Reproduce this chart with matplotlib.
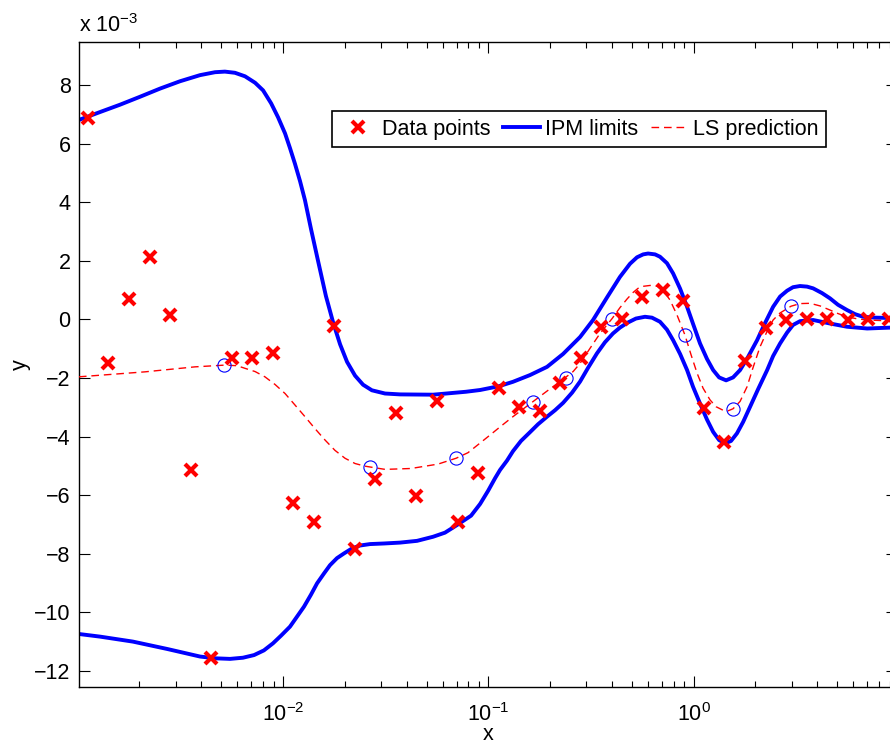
import matplotlib
matplotlib.use('Agg')
import matplotlib.pyplot as plt
import numpy as np

plt.rcParams['font.family'] = 'Liberation Sans'
plt.rcParams['mathtext.fontset'] = 'custom'
plt.rcParams['mathtext.rm'] = 'Liberation Sans'
plt.rcParams['mathtext.it'] = 'Liberation Sans:italic'
plt.rcParams['font.size'] = 15.5

# y values are in units of 1e-3, curve x positions given as log10(x)
data_x = [0.001122, 0.001413, 0.001778, 0.002239, 0.002818, 0.003548, 0.004467, 0.005623,
          0.007079, 0.008913, 0.01122, 0.01413, 0.01778, 0.02239, 0.02818, 0.03548,
          0.04467, 0.05623, 0.07079, 0.08913, 0.1122, 0.1413, 0.1778, 0.2239,
          0.2818, 0.3548, 0.4467, 0.5623, 0.7079, 0.8913, 1.122, 1.413,
          1.778, 2.239, 2.818, 3.548, 4.467, 5.623, 7.079, 8.913]
data_y = [6.86, -1.49, 0.68, 2.13, 0.14, -5.14, -11.55, -1.33,
          -1.31, -1.16, -6.26, -6.93, -0.22, -7.85, -5.46, -3.19,
          -6.03, -2.78, -6.92, -5.24, -2.35, -2.98, -3.12, -2.18,
          -1.33, -0.27, 0.0, 0.75, 1.0, 0.63, -3.03, -4.20,
          -1.43, -0.31, -0.02, 0.03, 0.0, -0.02, 0.01, 0.0]

upper_logx = [-2.994, -2.891, -2.794, -2.697, -2.599, -2.502, -2.404, -2.331, -2.283, -2.234,
              -2.185, -2.136, -2.097, -2.058, -2.024, -1.990, -1.966, -1.942, -1.917, -1.893,
              -1.864, -1.830, -1.791, -1.756, -1.722, -1.688, -1.649, -1.610, -1.567, -1.503,
              -1.430, -1.269, -1.109, -1.040, -0.948, -0.880, -0.797, -0.714, -0.636, -0.553,
              -0.490, -0.422, -0.359, -0.310, -0.276, -0.246, -0.222, -0.188, -0.164, -0.130,
              -0.100, -0.066, -0.032, -0.003, 0.031, 0.065, 0.095, 0.124, 0.158, 0.192,
              0.226, 0.265, 0.309, 0.348, 0.387, 0.421, 0.455, 0.484, 0.518, 0.552,
              0.582, 0.625, 0.664, 0.703, 0.747, 0.786, 0.825, 0.884, 0.957, 0.995]
upper_y = [6.81, 7.08, 7.33, 7.60, 7.88, 8.13, 8.34, 8.44, 8.46, 8.42,
           8.30, 8.08, 7.82, 7.38, 6.90, 6.35, 5.85, 5.32, 4.72, 4.07,
           3.10, 2.02, 0.80, -0.10, -0.85, -1.45, -1.92, -2.23, -2.42, -2.53,
           -2.56, -2.57, -2.47, -2.41, -2.28, -2.13, -1.90, -1.62, -1.18, -0.60,
           -0.02, 0.75, 1.45, 1.90, 2.12, 2.22, 2.25, 2.22, 2.14, 1.92,
           1.57, 1.05, 0.43, -0.15, -0.82, -1.35, -1.73, -1.98, -2.08, -1.98,
           -1.73, -1.28, -0.71, -0.12, 0.43, 0.78, 0.98, 1.10, 1.14, 1.12,
           1.06, 0.90, 0.72, 0.50, 0.32, 0.18, 0.09, 0.06, 0.05, 0.05]

lower_logx = [-2.994, -2.891, -2.731, -2.565, -2.404, -2.331, -2.258, -2.195, -2.141, -2.093,
              -2.049, -2.010, -1.966, -1.932, -1.898, -1.864, -1.834, -1.800, -1.771, -1.737,
              -1.703, -1.664, -1.625, -1.576, -1.508, -1.430, -1.347, -1.269, -1.211, -1.148,
              -1.084, -1.040, -1.001, -0.967, -0.943, -0.909, -0.880, -0.841, -0.797, -0.758,
              -0.714, -0.675, -0.636, -0.592, -0.553, -0.514, -0.471, -0.432, -0.393, -0.359,
              -0.324, -0.281, -0.237, -0.203, -0.164, -0.130, -0.100, -0.066, -0.032, -0.003,
              0.031, 0.065, 0.095, 0.124, 0.153, 0.182, 0.211, 0.241, 0.275, 0.314,
              0.358, 0.387, 0.421, 0.455, 0.484, 0.518, 0.582, 0.664, 0.747, 0.845,
              0.957, 0.995]
lower_y = [-10.74, -10.83, -11.0, -11.25, -11.51, -11.57, -11.59, -11.55, -11.46, -11.30,
           -11.06, -10.80, -10.49, -10.15, -9.81, -9.40, -9.01, -8.67, -8.39, -8.15,
           -7.99, -7.82, -7.72, -7.67, -7.65, -7.62, -7.56, -7.42, -7.28, -7.00,
           -6.70, -6.30, -5.85, -5.42, -5.14, -4.82, -4.50, -4.15, -3.85, -3.58,
           -3.32, -3.10, -2.85, -2.50, -2.12, -1.65, -1.16, -0.78, -0.48, -0.28,
           -0.12, 0.03, 0.09, 0.06, -0.08, -0.35, -0.71, -1.18, -1.73, -2.30,
           -2.87, -3.42, -3.84, -4.12, -4.23, -4.15, -3.89, -3.50, -2.98, -2.38,
           -1.73, -1.25, -0.82, -0.45, -0.19, -0.06, -0.02, -0.14, -0.25, -0.31,
           -0.28, -0.27]

ls_logx = [-2.994, -2.672, -2.429, -2.283, -2.224, -2.185, -2.136, -2.088, -2.039, -1.990,
           -1.942, -1.893, -1.844, -1.795, -1.747, -1.698, -1.649, -1.601, -1.503, -1.377,
           -1.245, -1.157, -1.099, -1.040, -0.992, -0.943, -0.880, -0.787, -0.709, -0.626,
           -0.587, -0.553, -0.505, -0.456, -0.397, -0.359, -0.324, -0.295, -0.271, -0.246,
           -0.212, -0.178, -0.144, -0.115, -0.081, -0.042, -0.013, 0.017, 0.046, 0.080,
           0.109, 0.143, 0.168, 0.192, 0.226, 0.260, 0.289, 0.323, 0.358, 0.387,
           0.421, 0.474, 0.518, 0.567, 0.616, 0.664, 0.703, 0.747, 0.796, 0.845,
           0.957, 0.995]
ls_y = [-1.96, -1.79, -1.62, -1.56, -1.58, -1.67, -1.78, -1.96, -2.22, -2.53,
        -2.92, -3.32, -3.73, -4.12, -4.47, -4.74, -4.92, -5.01, -5.12, -5.09,
        -4.94, -4.74, -4.55, -4.22, -3.95, -3.67, -3.32, -2.83, -2.42, -1.99,
        -1.78, -1.50, -0.99, -0.48, 0.03, 0.40, 0.70, 0.92, 1.06, 1.13,
        1.16, 1.13, 0.95, 0.66, 0.15, -0.54, -1.20, -1.84, -2.35, -2.75,
        -2.98, -3.10, -3.12, -3.05, -2.80, -2.30, -1.65, -0.94, -0.40, -0.02,
        0.22, 0.45, 0.54, 0.55, 0.46, 0.32, 0.20, 0.09, 0.02, -0.02,
        -0.05, -0.05]

circle_x = [0.00516, 0.0266, 0.0697, 0.1644, 0.2382, 0.399, 0.906, 1.56, 2.97]
circle_y = [-1.56, -5.04, -4.74, -2.82, -1.99, 0.03, -0.54, -3.05, 0.45]

upper_x = 10.0 ** np.array(upper_logx)
lower_x = 10.0 ** np.array(lower_logx)
ls_x = 10.0 ** np.array(ls_logx)

fig = plt.figure(figsize=(8.9, 7.44), dpi=100)
ax = fig.add_axes([0.08876, 0.0770, 0.9191, 0.8665])

h_ipm, = ax.plot(upper_x, upper_y, color='blue', lw=2.8, label='IPM limits', zorder=2)
ax.plot(lower_x, lower_y, color='blue', lw=2.8, zorder=2)
h_ls, = ax.plot(ls_x, ls_y, color='red', lw=1.0, dashes=(5.5, 3.5), label='LS prediction', zorder=3)
ax.plot(circle_x, circle_y, 'o', mfc='none', mec='blue', ms=9.5, mew=0.8, zorder=4)
h_data, = ax.plot(data_x, data_y, 'x', color='red', ms=8.5, mew=3, linestyle='none',
                  label='Data points', zorder=5)

ax.set_xscale('log')
ax.set_xlim(0.001015, 9.78)
ax.set_ylim(-12.54, 9.47)
ax.set_yticks(np.arange(-12, 9, 2))

ax.tick_params(which='both', direction='in', top=True, right=True, width=0.8)
ax.tick_params(which='major', length=8, pad=6)
ax.tick_params(which='minor', length=4.5)
ax.tick_params(axis='x', which='major', pad=11.5)
for s in ax.spines.values():
    s.set_linewidth(1.0)

ax.set_xlabel('x', labelpad=-1)
ax.set_ylabel('y', labelpad=2.5)
ax.text(0.0, 1.008, r'x $\mathregular{10^{-3}}$', transform=ax.transAxes,
        ha='left', va='bottom')

leg = ax.legend(handles=[h_data, h_ipm, h_ls], loc='upper left', bbox_to_anchor=(0.3093, 0.893),
                ncol=3, borderaxespad=0, fancybox=False, framealpha=1, edgecolor='black',
                handlelength=1.7, handletextpad=0.25, columnspacing=0.6, borderpad=0.35)
leg.get_frame().set_linewidth(1.2)

fig.savefig('out.png', dpi=100)
